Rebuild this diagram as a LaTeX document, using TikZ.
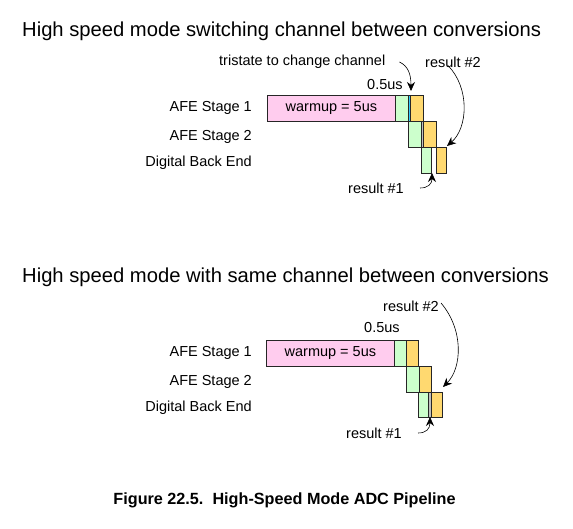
\documentclass[tikz,border=0pt]{standalone}
\usepackage{fontspec}
\setmainfont{Liberation Sans}
\usepackage{xcolor}
\usetikzlibrary{arrows.meta, positioning}
\definecolor{warmpink}{HTML}{FFCCEE}
\definecolor{afegreen}{HTML}{CCFFCC}
\definecolor{resyellow}{HTML}{FFD970}
\definecolor{tricyan}{HTML}{33CCFF}
\definecolor{gapgrey}{HTML}{C0C0C0}

\begin{document}
\begin{tikzpicture}[x=1pt, y=-1pt, >={Stealth[length=9pt, width=8pt]},
  every node/.style={font=\fontsize{14.5}{17}\selectfont, inner sep=0pt},
  seg/.style={draw=black!85, line width=0.8pt},
  warm/.style={seg, fill=warmpink, minimum width=128pt, minimum height=26pt, anchor=north west},
  grn/.style={seg, fill=afegreen},
  ylw/.style={seg, fill=resyellow},
  gry/.style={seg, fill=gapgrey},
  cyn/.style={seg, fill=tricyan},
  pointer/.style={->, line width=0.6pt}]

\useasboundingbox (0,0) rectangle (573,529);

% titles
\node[anchor=west, font=\fontsize{20.2}{24}\selectfont] (titleA) at (22,31) {High speed mode switching channel between conversions};
\node[anchor=west, font=\fontsize{20.2}{24}\selectfont] (titleB) at (22,277) {High speed mode with same channel between conversions};

% stage labels
\foreach \dy/\n in {0/A, 245/B} {
  \node[anchor=east] (stage1\n) at (252,108+\dy) {AFE Stage 1};
  \node[anchor=east] (stage2\n) at (252,137+\dy) {AFE Stage 2};
  \node[anchor=east] (dbe\n) at (252,163+\dy) {Digital Back End};
}

% switching channel
\node[warm] (warmA) at (267,95) {warmup = 5us};
\draw[grn] (395,95) rectangle (408,121);
\draw[cyn] (408,95) rectangle (410,121);
\draw[ylw] (410,95) rectangle (423,121);
\draw[grn] (408,121) rectangle (421,147);
\draw[gry] (421,121) rectangle (423,147);
\draw[ylw] (423,121) rectangle (436,147);
\draw[grn] (421,147) rectangle (431,173);
\draw[ylw] (436,147) rectangle (446,173);

\node[anchor=west] (tristate) at (219,62) {tristate to change channel};
\node[anchor=west] (halfA) at (367,85) {0.5us};
\node[anchor=west] (res2A) at (425,62) {result \#2};
\node[anchor=west] (res1A) at (348,188) {result \#1};

\coordinate (triTip) at (411,91);
\coordinate (res2TipA) at (447,146);
\coordinate (res1TipA) at (432,173);
\draw[pointer] ([xshift=14pt]tristate.east) .. controls (408,66) and (411,74) .. (triTip);
\draw[pointer] ([xshift=-5pt,yshift=2pt]res2A.south) .. controls (470,88) and (468,128) .. (res2TipA);
\draw[pointer] ([xshift=16pt]res1A.east) .. controls (428,188) and (432,184) .. (res1TipA);

% same channel
\node[warm] (warmB) at (266,340) {warmup = 5us};
\draw[grn] (394,340) rectangle (406,366);
\draw[ylw] (406,340) rectangle (418,366);
\draw[grn] (406,366) rectangle (419,392);
\draw[ylw] (419,366) rectangle (431,392);
\draw[grn] (418,392) rectangle (428,417);
\draw[gry] (428,392) rectangle (431,417);
\draw[ylw] (431,392) rectangle (442,417);

\node[anchor=west] (halfB) at (364,328) {0.5us};
\node[anchor=west] (res2B) at (383,306) {result \#2};
\node[anchor=west] (res1B) at (346,433) {result \#1};

\coordinate (res2TipB) at (443,387);
\coordinate (res1TipB) at (430,417);
\draw[pointer] ([xshift=2pt,yshift=3pt]res2B.east) .. controls (464,330) and (462,368) .. (res2TipB);
\draw[pointer] ([xshift=16pt]res1B.east) .. controls (426,433) and (430,429) .. (res1TipB);

% caption
\node[font=\bfseries\fontsize{16.2}{19}\selectfont] (caption) at (284.5,500) {Figure 22.5.\ \ High-Speed Mode ADC Pipeline};

\end{tikzpicture}
\end{document}
